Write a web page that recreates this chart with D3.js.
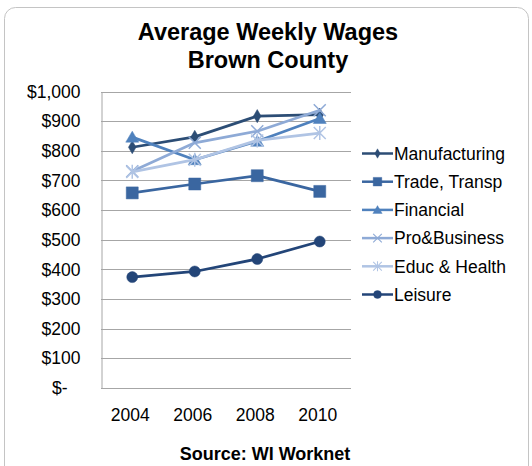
<!DOCTYPE html>
<html><head><meta charset="utf-8">
<script src="https://cdn.jsdelivr.net/npm/d3@7"></script>
<style>body{margin:0;background:#fff;} svg{display:block;font-family:"Liberation Sans",Arial,sans-serif;}</style>
</head><body>
<script>
const years = ["2004","2006","2008","2010"];
const manufacturing = [812, 847, 917, 922];
const tradeTransp = [658, 688, 716, 663];
const financial = [846, 770, 832, 909];
const proBusiness = [731, 827, 866, 937];
const educHealth = [729, 770, 835, 860];
const leisure = [374, 393, 435, 494];
const yTicks = [0,100,200,300,400,500,600,700,800,900,1000];
const seriesNames = ["Manufacturing","Trade, Transp","Financial","Pro&Business","Educ & Health","Leisure"];
const seriesValues = [manufacturing, tradeTransp, financial, proBusiness, educHealth, leisure];
const colors = ["#2c4d75","#3a66a0","#4f81bd","#8eaad6","#b0c4e4","#234578"];
const markers = ["diamond","square","triangle","x","star","circle"];

const W = 532, H = 466;
const svg = d3.select("body").append("svg").attr("width", W).attr("height", H);

// chart border
svg.append("rect").attr("x",4.5).attr("y",7.5).attr("width",524).attr("height",470)
  .attr("rx",11).attr("fill","#fff").attr("stroke","#c4c4c4").attr("stroke-width",1);

// title
svg.append("text").attr("x",268).attr("y",40).attr("text-anchor","middle")
  .attr("font-size",23.5).attr("font-weight","bold").attr("fill","#000").text("Average Weekly Wages");
svg.append("text").attr("x",268).attr("y",68).attr("text-anchor","middle")
  .attr("font-size",23.5).attr("font-weight","bold").attr("fill","#000").text("Brown County");

const x = d3.scalePoint().domain(years).range([101, 351]).padding(0.5);
const y = d3.scaleLinear().domain([0,1000]).range([388, 91.5]);

// gridlines
svg.append("g").selectAll("line").data(yTicks.filter(d=>d>0)).join("line")
  .attr("x1",101).attr("x2",351).attr("y1",d=>Math.round(y(d))+0.5).attr("y2",d=>Math.round(y(d))+0.5)
  .attr("stroke","#a6a6a6").attr("stroke-width",1);

// y axis
const yAxis = d3.axisLeft(y).tickValues(yTicks).tickSize(0).tickPadding(21)
  .tickFormat(d => d===0 ? "$-" : "$" + d3.format(",")(d));
const gy = svg.append("g").attr("transform","translate(101.5,0)").call(yAxis);
gy.select(".domain").attr("stroke","#a6a6a6");
gy.selectAll("text").attr("font-size",17.5).attr("fill","#000").attr("font-family","Liberation Sans, Arial, sans-serif");
gy.selectAll(".tick").filter(d=>d===0).select("text").attr("dx",-13);

// x axis
const xAxis = d3.axisBottom(x).tickSize(0).tickPadding(20);
const gx = svg.append("g").attr("transform","translate(0,388.5)").call(xAxis);
gx.select(".domain").attr("stroke","#a6a6a6").attr("d","M101,0H351");
gx.selectAll("text").attr("font-size",17.5).attr("fill","#000").attr("font-family","Liberation Sans, Arial, sans-serif")
  .attr("dx",-2.5);

function markerPath(type){
  switch(type){
    case "diamond": return d3.symbol(d3.symbolDiamond, 50)();
    case "square": return "M-6,-6H6V6H-6Z";
    case "triangle": return "M0,-6L6.5,5H-6.5Z";
    case "circle": return d3.symbol(d3.symbolCircle, 95)();
    case "x": return "M-6,-6L6,6M-6,6L6,-6";
    case "star": return "M-6,-6L6,6M-6,6L6,-6M0,-7V7";
  }
}
function drawMarker(g, type, color){
  const stroked = (type==="x"||type==="star");
  g.append("path").attr("d", markerPath(type))
    .attr("fill", stroked ? "none" : color)
    .attr("stroke", color).attr("stroke-width", stroked ? 1.5 : 0.5);
}

const line = d3.line().x((d,i)=>x(years[i])).y(d=>y(d));
seriesValues.forEach((vals, k) => {
  svg.append("path").datum(vals).attr("d", line).attr("fill","none")
    .attr("stroke", colors[k]).attr("stroke-width", 2.75).attr("stroke-linejoin","round");
  vals.forEach((v,i) => {
    const g = svg.append("g").attr("transform",`translate(${x(years[i])},${y(v)})`);
    drawMarker(g, markers[k], colors[k]);
  });
});

// legend
const legend = svg.append("g");
seriesNames.forEach((name,k) => {
  const ly = 153.5 + k*28.2;
  legend.append("line").attr("x1",362).attr("x2",393).attr("y1",ly).attr("y2",ly)
    .attr("stroke",colors[k]).attr("stroke-width",2.5);
  const g = legend.append("g").attr("transform",`translate(377.5,${ly}) scale(0.72)`);
  drawMarker(g, markers[k], colors[k]);
  legend.append("text").attr("x",394).attr("y",ly).attr("dy","0.36em")
    .attr("font-size",17.5).attr("fill","#000").text(name);
});

// source
svg.append("text").attr("x",265).attr("y",460).attr("text-anchor","middle")
  .attr("font-size",18).attr("font-weight","bold").attr("fill","#000").text("Source: WI Worknet");
</script>
</body></html>
